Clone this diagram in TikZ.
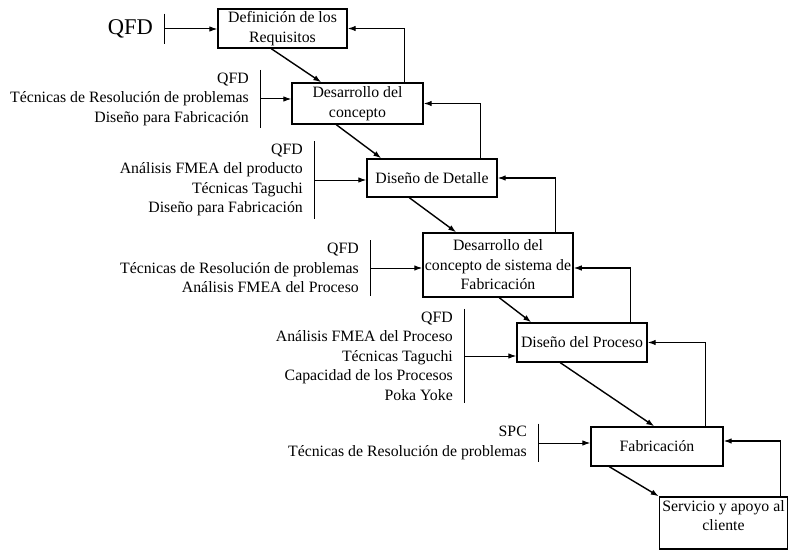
\documentclass[tikz,border=0pt]{standalone}
\usepackage{fontspec}
\setmainfont{Liberation Serif}
\usetikzlibrary{arrows.meta}

\begin{document}
\begin{tikzpicture}[x=1pt, y=-1pt]
    \tikzset{
        stage/.style={
            draw, line width=1.4pt, fill=white, align=center,
            inner sep=2pt, font=\fontsize{15.8}{19.5}\selectfont,
        },
        tools/.style={
            anchor=east, align=right, inner xsep=0pt, inner ysep=2.5pt,
            font=\fontsize{15.8}{19.5}\selectfont,
        },
        tip/.style={-{Latex[length=8pt, width=5.5pt]}},
        flow/.style={tip, line width=1.4pt},
        back/.style={tip, line width=1.1pt},
        feed/.style={tip, line width=1pt},
        bar/.style={line width=1pt},
    }

    \clip (0,0) rectangle (788,551);
    \fill[white] (0,0) rectangle (788,551);

    % Stages
    \node[stage, minimum width=129pt, minimum height=39pt] (b1) at (282.5, 28.5) {Definición de los\\Requisitos};
    \node[stage, minimum width=131pt, minimum height=41pt] (b2) at (357.5, 103.5) {Desarrollo del\\concepto};
    \node[stage, minimum width=130pt, minimum height=38pt] (b3) at (432, 178) {Diseño de Detalle};
    \node[stage, minimum width=150pt, minimum height=64pt] (b4) at (498, 265) {Desarrollo del\\concepto de sistema de\\Fabricación};
    \node[stage, minimum width=130pt, minimum height=39pt] (b5) at (582, 342.5) {Diseño del Proceso};
    \node[stage, minimum width=132pt, minimum height=39pt] (b6) at (657, 446.5) {Fabricación};
    \node[stage, minimum width=128pt, minimum height=52pt] (b7) at (723.5, 523) {Servicio y apoyo al\\cliente\\[-5pt]\mbox{}};

    % Tools
    \node[tools, inner ysep=6pt, font=\fontsize{22.5}{26}\selectfont] (t1) at (153, 29) {QFD};
    \node[tools] (t2) at (249, 99) {QFD\\Técnicas de Resolución de problemas\\Diseño para Fabricación};
    \node[tools] (t3) at (303, 180) {QFD\\Análisis FMEA del producto\\Técnicas Taguchi\\Diseño para Fabricación};
    \node[tools] (t4) at (359, 268) {QFD\\Técnicas de Resolución de problemas\\Análisis FMEA del Proceso};
    \node[tools] (t5) at (453, 356) {QFD\\Análisis FMEA del Proceso\\Técnicas Taguchi\\Capacidad de los Procesos\\Poka Yoke};
    \node[tools] (t6) at (527, 443) {SPC\\Técnicas de Resolución de problemas};

    % Tool bars and inputs
    \draw[bar] ([xshift=11pt]t1.north east) -- ([xshift=11pt]t1.south east);
    \draw[bar] ([xshift=11pt]t2.north east) -- ([xshift=11pt]t2.south east);
    \draw[bar] ([xshift=11pt]t3.north east) -- ([xshift=11pt]t3.south east);
    \draw[bar] ([xshift=11pt]t4.north east) -- ([xshift=11pt]t4.south east);
    \draw[bar] ([xshift=11pt]t5.north east) -- ([xshift=11pt]t5.south east);
    \draw[bar] ([xshift=11pt]t6.north east) -- ([xshift=11pt]t6.south east);
    \draw[feed] ([xshift=11pt]t1.east) -- (t1.east -| b1.west);
    \draw[feed] ([xshift=11pt]t2.east) -- (t2.east -| b2.west);
    \draw[feed] ([xshift=11pt]t3.east) -- (t3.east -| b3.west);
    \draw[feed] ([xshift=11pt]t4.east) -- (t4.east -| b4.west);
    \draw[feed] ([xshift=11pt]t5.east) -- (t5.east -| b5.west);
    \draw[feed] ([xshift=11pt]t6.east) -- (t6.east -| b6.west);

    % Forward flow
    \draw[flow] ([xshift=54pt]b1.south west) -- ([xshift=30pt]b2.north west);
    \draw[flow] ([xshift=45pt]b2.south west) -- ([xshift=15pt]b3.north west);
    \draw[flow] ([xshift=43pt]b3.south west) -- ([xshift=34pt]b4.north west);
    \draw[flow] ([xshift=77pt]b4.south west) -- ([xshift=15pt]b5.north west);
    \draw[flow] ([xshift=44pt]b5.south west) -- ([xshift=64pt]b6.north west);
    \draw[flow] ([xshift=19pt]b6.south west) -- (b7.north west);

    % Feedback
    \draw[back] ([xshift=-19pt]b2.north east) |- (b1.east);
    \draw[back] ([xshift=-17pt]b3.north east) |- (b2.east);
    \draw[back] ([xshift=-18pt]b4.north east) |- (b3.east);
    \draw[back] ([xshift=-17pt]b5.north east) |- ([yshift=-3pt]b4.east);
    \draw[back] ([xshift=-18pt]b6.north east) |- (b5.east);
    \draw[back] ([xshift=-8pt]b7.north east) |- ([yshift=5.5pt]b6.east);
\end{tikzpicture}
\end{document}
